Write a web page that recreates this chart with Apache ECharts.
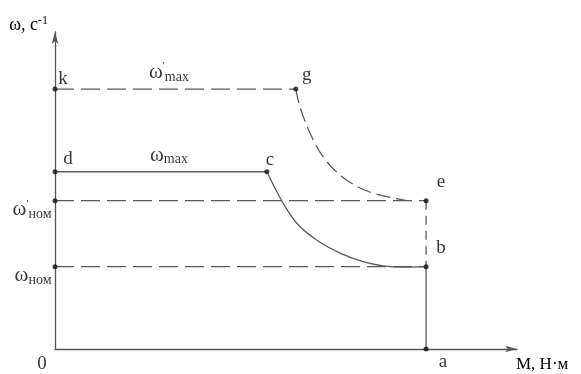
<!DOCTYPE html>
<html><head><meta charset="utf-8">
<script src="https://cdn.jsdelivr.net/npm/echarts@6/dist/echarts.min.js"></script>
<style>html,body{margin:0;padding:0;background:#fff;}#c{width:581px;height:374px;}</style>
</head><body><div id="c"></div>
<script>
// axis ranges (relative units: M / M_nom, omega / omega_nom)
const xMax = 1.245, yMax = 3.852;
// characteristic speeds
const wNom = 1.0, wNomP = 1.802, wMax = 2.154, wMaxP = 3.159;
// characteristic torques
const Mc = 0.571, Mg = 0.649, Ma = 1.0;
// curve c -> b (solid)
const curveCB = [[0.571,2.154],[0.611,1.802],[0.651,1.531],[0.705,1.324],[0.768,1.166],[0.830,1.061],[0.884,1.010],[0.940,0.995],[1.0,1.0]];
// curve g -> e (dashed)
const curveGE = [[0.649,3.159],[0.660,2.944],[0.687,2.625],[0.722,2.337],[0.768,2.114],[0.822,1.956],[0.876,1.871],[0.948,1.802]];
// labelled points
const pointNames = ['k','g','d','c','e','b','a'];
const pointValues = [[0,wMaxP],[Mg,wMaxP],[0,wMax],[Mc,wMax],[Ma,wNomP],[Ma,wNom],[Ma,0]];

const serif = '"Liberation Serif", "DejaVu Serif", serif';
const lineCol = '#5a5a5a';
const txt = '#000';
const dash = [19, 7];
const offsets = {k:[8,-10], g:[11,-14], d:[13,-13], c:[3,-12], e:[15,-19], b:[15,-19], a:[17,13]};
const rich = {
  w:{fontFamily:serif, fontSize:21, color:txt},
  p:{fontFamily:serif, fontSize:11, color:txt, verticalAlign:'top'},
  s:{fontFamily:serif, fontSize:14, color:txt, verticalAlign:'bottom', padding:[9,0,0,0]}
};

const chart = echarts.init(document.getElementById('c'));
const ls = (type) => ({color: lineCol, width: 1.3, type: type});
const seg = (data, type) => ({type:'line', data: data, showSymbol:false, symbol:'none', lineStyle: ls(type), silent:true, z:2, animation:false});

chart.setOption({
  animation: false,
  grid: {left: 55, right: 64, top: 32, bottom: 25},
  xAxis: {
    type:'value', min:0, max:xMax,
    axisLine:{lineStyle:{color:'#555', width:1.3}, symbol:['none','arrow'], symbolSize:[5,12]},
    axisTick:{show:false}, axisLabel:{show:false}, splitLine:{show:false},
    name:'M, Н·м', nameLocation:'end', nameGap:-1,
    nameTextStyle:{fontFamily:serif, fontSize:17, color:txt, align:'left', verticalAlign:'top', padding:[7,0,0,0]}
  },
  yAxis: {
    type:'value', min:0, max:yMax,
    axisLine:{lineStyle:{color:'#555', width:1.3}, symbol:['none','arrow'], symbolSize:[5,12]},
    axisTick:{show:false}, axisLabel:{show:false}, splitLine:{show:false},
    name:'{w|ω, с}{s|-1}', nameLocation:'end', nameGap:-5,
    nameTextStyle:{align:'right', verticalAlign:'bottom', padding:[0,7,2,0],
      rich:{w:{fontFamily:serif, fontSize:18, color:txt}, s:{fontFamily:serif, fontSize:12, color:txt, verticalAlign:'top', padding:[0,0,8,0]}}}
  },
  series: [
    seg([[0,wMaxP],[Mg,wMaxP]], dash),
    seg([[0,wMax],[Mc,wMax]], 'solid'),
    seg([[0,wNomP],[Ma,wNomP]], dash),
    seg([[0,wNom],[Ma,wNom]], dash),
    seg([[Ma,wNomP],[Ma,wNom]], [9,6]),
    seg([[Ma,wNom],[Ma,0]], 'solid'),
    Object.assign(seg(curveCB, 'solid'), {smooth:0.35}),
    Object.assign(seg(curveGE, [14,6]), {smooth:0.35}),
    {
      type:'scatter', symbolSize:5, itemStyle:{color:'#111'}, z:5, silent:true,
      data: pointNames.map((n,i)=>({value: pointValues[i], name:n,
        label:{show:true, formatter:n, position:'inside', offset:offsets[n], fontFamily:serif, fontSize:19, color:txt}}))
    },
    {
      type:'scatter', symbolSize:5, itemStyle:{color:'#111'}, z:5, silent:true,
      data:[
        {value:[0,wNomP], label:{show:true, position:'left', distance:1, offset:[0,9], formatter:"{w|ω}{p|'}{s|ном}"}},
        {value:[0,wNom], label:{show:true, position:'left', distance:1, offset:[0,9], formatter:'{w|ω}{s|ном}'}}
      ],
      label:{rich:rich}
    },
    {
      type:'scatter', symbolSize:0, silent:true, z:5,
      data:[
        {value:[0.307,wMaxP], label:{show:true, position:'top', distance:5, formatter:"{w|ω}{p|'}{s|max}"}},
        {value:[0.307,wMax], label:{show:true, position:'top', distance:5, formatter:'{w|ω}{s|max}'}},
        {value:[0,0], label:{show:true, position:'inside', offset:[-13,15], formatter:'0', fontFamily:serif, fontSize:19, color:txt}}
      ],
      label:{rich:rich}
    }
  ]
});
</script></body></html>
